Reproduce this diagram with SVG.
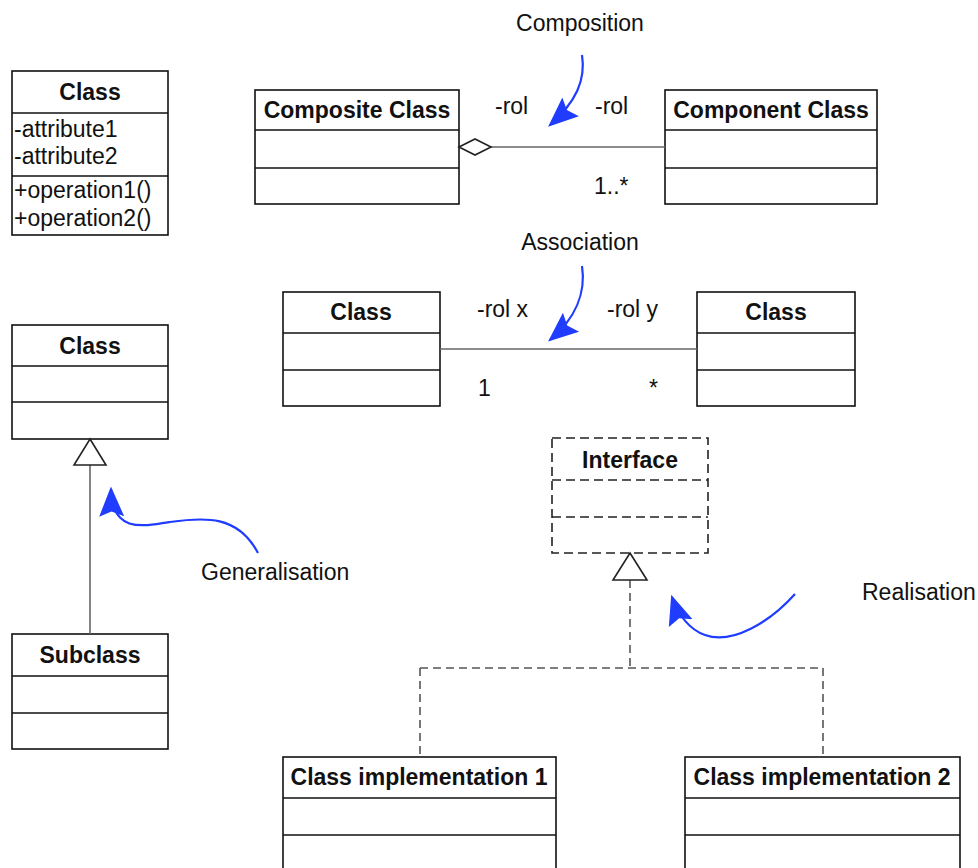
<svg xmlns="http://www.w3.org/2000/svg" width="978" height="868" viewBox="0 0 978 868">
<style>
.box{fill:#fff;stroke:#111;stroke-width:1.6}
.div{stroke:#111;stroke-width:1.6}
.dbox{fill:#fff;stroke:#222;stroke-width:1.6;stroke-dasharray:9,5}
.ddiv{stroke:#222;stroke-width:1.6;stroke-dasharray:9,5}
.t{font-family:"Liberation Sans",Arial,sans-serif;font-size:23px;fill:#111}
.b{font-family:"Liberation Sans",Arial,sans-serif;font-size:23px;font-weight:bold;fill:#111;text-anchor:middle}
.con{stroke:#666;stroke-width:1.6;fill:none}
.dcon{stroke:#555;stroke-width:1.6;fill:none;stroke-dasharray:8,5}
.blue{stroke:#1f3cff;stroke-width:2.2;fill:none}
</style>
<defs>
<marker id="barrow" markerUnits="userSpaceOnUse" markerWidth="30" markerHeight="30" viewBox="0 0 24 20" refX="22" refY="10" orient="auto">
<path d="M0,0 L24,10 L0,20 L4,10 Z" fill="#1f3cff"/>
</marker>
</defs>

<g id="class-attr">
<rect class="box" x="12" y="71" width="156" height="164"/>
<line class="div" x1="12" y1="113" x2="168" y2="113"/>
<line class="div" x1="12" y1="176" x2="168" y2="176"/>
<text class="b" x="90" y="100">Class</text>
<text class="t" x="14" y="137">-attribute1</text>
<text class="t" x="14" y="164">-attribute2</text>
<text class="t" x="14" y="198">+operation1()</text>
<text class="t" x="14" y="226">+operation2()</text>
</g>

<g id="composite-class">
<rect class="box" x="255" y="90" width="204" height="114"/>
<line class="div" x1="255" y1="130" x2="459" y2="130"/>
<line class="div" x1="255" y1="168" x2="459" y2="168"/>
<text class="b" x="357" y="118">Composite Class</text>
</g>

<g id="component-class">
<rect class="box" x="665" y="90" width="212" height="114"/>
<line class="div" x1="665" y1="130" x2="877" y2="130"/>
<line class="div" x1="665" y1="168" x2="877" y2="168"/>
<text class="b" x="771" y="118">Component Class</text>
</g>

<g id="assoc-class-1">
<rect class="box" x="283" y="292" width="157" height="114"/>
<line class="div" x1="283" y1="333" x2="440" y2="333"/>
<line class="div" x1="283" y1="370" x2="440" y2="370"/>
<text class="b" x="361" y="320">Class</text>
</g>

<g id="assoc-class-2">
<rect class="box" x="697" y="292" width="158" height="114"/>
<line class="div" x1="697" y1="333" x2="855" y2="333"/>
<line class="div" x1="697" y1="370" x2="855" y2="370"/>
<text class="b" x="776" y="320">Class</text>
</g>

<g id="super-class">
<rect class="box" x="12" y="325" width="156" height="114"/>
<line class="div" x1="12" y1="366" x2="168" y2="366"/>
<line class="div" x1="12" y1="402" x2="168" y2="402"/>
<text class="b" x="90" y="354">Class</text>
</g>

<g id="subclass">
<rect class="box" x="12" y="634" width="156" height="115"/>
<line class="div" x1="12" y1="676" x2="168" y2="676"/>
<line class="div" x1="12" y1="713" x2="168" y2="713"/>
<text class="b" x="90" y="663">Subclass</text>
</g>

<g id="interface">
<rect class="dbox" x="552" y="438" width="156" height="115"/>
<line class="ddiv" x1="552" y1="480" x2="708" y2="480"/>
<line class="ddiv" x1="552" y1="517" x2="708" y2="517"/>
<text class="b" x="630" y="468">Interface</text>
</g>

<g id="class-impl-1">
<rect class="box" x="283" y="757" width="273" height="130"/>
<line class="div" x1="283" y1="798" x2="556" y2="798"/>
<line class="div" x1="283" y1="835" x2="556" y2="835"/>
<text class="b" x="419" y="785">Class implementation 1</text>
</g>

<g id="class-impl-2">
<rect class="box" x="685" y="757" width="275" height="130"/>
<line class="div" x1="685" y1="798" x2="960" y2="798"/>
<line class="div" x1="685" y1="835" x2="960" y2="835"/>
<text class="b" x="822" y="785">Class implementation 2</text>
</g>

<g id="connectors">
<line class="con" x1="491" y1="147" x2="665" y2="147"/>
<path d="M459,147 L475,139 L491,147 L475,155 Z" fill="#fff" stroke="#222" stroke-width="1.6"/>
<line class="con" x1="440" y1="349" x2="697" y2="349"/>
<line class="con" x1="90" y1="465" x2="90" y2="634"/>
<path d="M90,439 L106,465 L74,465 Z" fill="#fff" stroke="#222" stroke-width="1.6"/>
<path class="dcon" d="M630,580 L630,668 M420,668 L823,668 M420,668 L420,757 M823,668 L823,757"/>
<path d="M630,553 L647,580 L613,580 Z" fill="#fff" stroke="#222" stroke-width="1.6"/>
</g>

<g id="annotations">
<path class="blue" d="M582,55 C586,80 576,102 550,125" marker-end="url(#barrow)"/>
<path class="blue" d="M582,266 C586,292 576,318 550,340" marker-end="url(#barrow)"/>
<path class="blue" d="M258,553 C238,515 205,517 170,522 C140,527 112,532 111,489" marker-end="url(#barrow)"/>
<path class="blue" d="M795,594 C770,622 732,645 705,635 C690,630 678,615 672,597" marker-end="url(#barrow)"/>
<text class="t" x="580" y="31" text-anchor="middle">Composition</text>
<text class="t" x="580" y="250" text-anchor="middle">Association</text>
<text class="t" x="201" y="580">Generalisation</text>
<text class="t" x="862" y="600">Realisation</text>
<text class="t" x="495" y="114">-rol</text>
<text class="t" x="595" y="114">-rol</text>
<text class="t" x="594" y="194">1..*</text>
<text class="t" x="477" y="317">-rol x</text>
<text class="t" x="607" y="317">-rol y</text>
<text class="t" x="478" y="396">1</text>
<text class="t" x="649" y="396">*</text>
</g>
</svg>
